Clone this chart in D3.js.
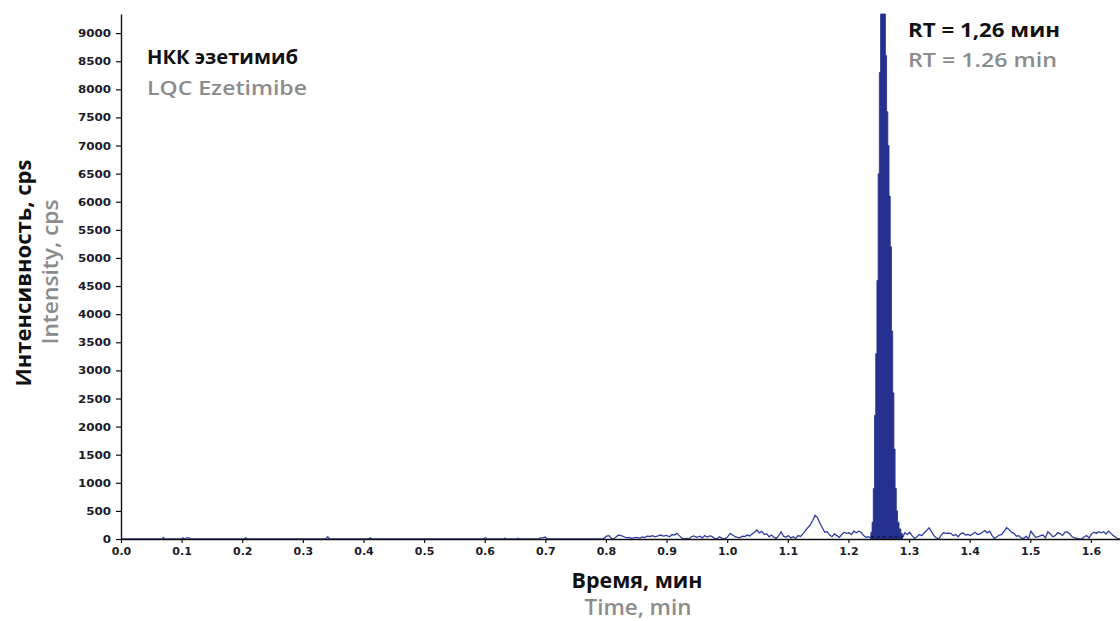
<!DOCTYPE html>
<html><head><meta charset="utf-8">
<script src="https://cdn.jsdelivr.net/npm/d3@7"></script>
<style>body{margin:0;background:#fff}svg{display:block}</style>
</head><body><svg id="c" width="1120" height="621"></svg>
<script>
const xTicks = [0.0,0.1,0.2,0.3,0.4,0.5,0.6,0.7,0.8,0.9,1.0,1.1,1.2,1.3,1.4,1.5,1.6];
const yTicks = [0,500,1000,1500,2000,2500,3000,3500,4000,4500,5000,5500,6000,6500,7000,7500,8000,8500,9000];
const xDomain = [0, 1.648];
const yDomain = [0, 9340];

const baseTimes = [0,0.068,0.070,0.072,0.100,0.102,0.105,0.108,0.112,0.115,0.203,0.206,0.209,0.338,0.341,0.344,0.408,0.411,0.414,0.598,0.601,0.604,0.630,0.633,0.636,0.652,0.655,0.658,0.688,0.692,0.696,0.700,0.703,0.790];
const baseValues = [0,0,25,0,0,20,0,20,20,0,0,20,0,0,40,0,0,20,0,0,20,0,0,15,0,0,15,0,0,20,20,35,0,0];

const noiseTimes = [0.795,0.801,0.805,0.809,0.812,0.816,0.821,0.826,0.830,0.834,0.838,0.842,0.846,0.851,0.856,0.860,0.864,0.868,0.873,0.877,0.881,0.886,0.890,0.895,0.900,0.905,0.909,0.913,0.917,0.921,0.925,0.929,0.933,0.937,0.941,0.945,0.950,0.955,0.959,0.963,0.967,0.971,0.975,0.979,0.983,0.987,0.991,0.995,1.000,1.005,1.009,1.013,1.017,1.021,1.025,1.029,1.033,1.037,1.041,1.045,1.049,1.053,1.057,1.061,1.065,1.069,1.073,1.077,1.081,1.085,1.089,1.093,1.097,1.101,1.105,1.109,1.113,1.117,1.121,1.125,1.129,1.133,1.137,1.141,1.145,1.149,1.153,1.157,1.161,1.165,1.169,1.173,1.177,1.181,1.185,1.189,1.193,1.197,1.201,1.205,1.209,1.213,1.217,1.221,1.225,1.229,1.233,1.237,1.250,1.270,1.290,1.293,1.297,1.301,1.305,1.309,1.313,1.317,1.321,1.325,1.329,1.333,1.337,1.341,1.345,1.349,1.353,1.357,1.361,1.365,1.369,1.373,1.377,1.381,1.385,1.389,1.393,1.397,1.401,1.405,1.409,1.413,1.417,1.421,1.425,1.429,1.433,1.437,1.441,1.445,1.449,1.453,1.457,1.461,1.465,1.469,1.473,1.477,1.481,1.485,1.489,1.493,1.497,1.501,1.505,1.509,1.513,1.517,1.521,1.525,1.529,1.533,1.537,1.541,1.545,1.549,1.553,1.557,1.561,1.565,1.569,1.573,1.577,1.581,1.585,1.589,1.593,1.597,1.601,1.605,1.609,1.613,1.617,1.621,1.625,1.629,1.633,1.637,1.641,1.645,1.648];
const noiseValues = [0,50,60,10,0,30,70,55,40,20,30,10,20,30,15,35,25,50,45,60,40,55,70,50,65,40,80,70,100,60,20,0,10,5,40,55,30,50,20,60,35,55,45,10,0,40,15,0,30,100,70,40,30,20,50,45,70,55,90,120,160,110,135,80,95,40,70,30,10,60,130,50,30,60,20,40,10,60,45,90,150,200,250,330,420,380,280,200,120,130,70,40,90,60,30,80,120,100,110,80,140,110,140,120,60,30,40,20,40,40,40,110,80,120,60,10,40,80,60,110,150,200,130,60,20,0,70,110,100,105,100,60,80,40,90,110,70,80,60,90,120,80,90,120,150,110,140,60,10,40,70,80,140,200,170,120,100,50,60,20,10,50,0,140,80,30,40,60,70,20,130,90,40,60,110,100,60,120,130,90,40,20,10,0,0,40,60,20,90,120,100,130,110,130,90,140,100,60,30,0,0];

const peakTimes = [1.236,1.238,1.240,1.242,1.244,1.246,1.248,1.250,1.252,1.254,1.256,1.258,1.260,1.262,1.264,1.266,1.268,1.270,1.272,1.274,1.276,1.278,1.280,1.282,1.285,1.288,1.290];
const peakValues = [0,120,300,900,2200,3300,4600,6500,8300,9340,9340,9340,9340,8600,7600,7000,6100,5200,3700,2600,1600,900,500,300,180,100,0];

const baselineSpan = [1.237, 1.290];

const titleRu = "НКК эзетимиб", titleEn = "LQC Ezetimibe";
const rtRu = "RT = 1,26 мин", rtEn = "RT = 1.26 min";
const xTitleRu = "Время, мин", xTitleEn = "Time, min";
const yTitleRu = "Интенсивность, cps", yTitleEn = "Intensity, cps";

const svg = d3.select("#c");
const x = d3.scaleLinear().domain(xDomain).range([121, 1120]);
const y = d3.scaleLinear().domain(yDomain).range([539, 14]);

const lineColor = "#2e3d9e", fillColor = "#26318f";

const trace = d3.zip(baseTimes.concat(noiseTimes), baseValues.concat(noiseValues));
svg.append("path").datum(trace)
  .attr("d", d3.line().x(d=>x(d[0])).y(d=>y(d[1])))
  .attr("fill","none").attr("stroke",lineColor).attr("stroke-width",1.3);

const peak = d3.zip(peakTimes, peakValues);
svg.append("path").datum(peak)
  .attr("d", d3.area().curve(d3.curveStep).x(d=>x(d[0])).y0(y(0)).y1(d=>y(d[1])))
  .attr("fill", fillColor).attr("stroke", fillColor).attr("stroke-width",0.8);

svg.append("line").attr("x1",x(baselineSpan[0])).attr("x2",x(baselineSpan[1]))
  .attr("y1",y(40)).attr("y2",y(40)).attr("stroke","#111").attr("stroke-width",1.2)
  .attr("stroke-dasharray","3,3");

const tickFont = "'DejaVu Sans', sans-serif";
const gx = svg.append("g").attr("transform",`translate(0,${y(0)})`);
gx.call(d3.axisBottom(x).tickValues(d3.range(0.05,1.65,0.1)).tickSize(3).tickFormat(""));
gx.call(d3.axisBottom(x).tickValues(xTicks).tickSize(4).tickSizeOuter(0).tickFormat(d3.format(".1f")));
gx.selectAll(".domain").attr("stroke","#111").attr("stroke-width",1.4);
gx.selectAll("line").attr("stroke","#111").attr("stroke-width",1.2);
gx.selectAll("text").attr("font-family",tickFont).attr("font-weight","bold").attr("font-size","11px").attr("fill","#1c1c2a").attr("dy","0.62em").attr("y",9);

const gy = svg.append("g").attr("transform",`translate(${x(0)},0)`);
gy.call(d3.axisLeft(y).tickValues(d3.range(100,9340,100).filter(v=>v%500)).tickSize(2).tickFormat(""));
gy.call(d3.axisLeft(y).tickValues(yTicks).tickSize(5).tickSizeOuter(0).tickFormat(d3.format("d")));
gy.selectAll(".domain").attr("stroke","#111").attr("stroke-width",1.4);
gy.selectAll("line").attr("stroke","#111").attr("stroke-width",1.2);
gy.selectAll("text").attr("font-family",tickFont).attr("font-weight","bold").attr("font-size","11px").attr("fill","#1c1c2a").attr("x",-10)
  .each(function(){ const w=this.getComputedTextLength(); d3.select(this).attr("textLength", w*1.08).attr("lengthAdjust","spacingAndGlyphs"); });

const tf = "'Open Sans', 'Noto Sans', sans-serif";
function txt(s, xx, yy, size, weight, color, anchor, len){
  const t = svg.append("text").text(s).attr("x",xx).attr("y",yy).attr("font-family",tf)
    .attr("font-size",size+"px").attr("font-weight",weight).attr("fill",color)
    .attr("text-anchor",anchor||"start");
  if (len) t.attr("textLength",len).attr("lengthAdjust","spacingAndGlyphs");
  return t;
}
txt(titleRu,147,64,20,700,"#111","start",151);
txt(titleEn,147,95,20,600,"#8c8c8c","start",160);
txt(rtRu,908,37,20,700,"#111","start",152);
txt(rtEn,908,67,20,600,"#8c8c8c","start",149);
txt(xTitleRu,637,588,21,700,"#111","middle",131);
txt(xTitleEn,638,615,21,600,"#8c8c8c","middle",107);
txt(yTitleRu,0,0,21,700,"#111","middle",227).attr("transform","translate(31,273) rotate(-90)");
txt(yTitleEn,0,0,21,600,"#8c8c8c","middle",145).attr("transform","translate(58,272) rotate(-90)");
</script></body></html>
